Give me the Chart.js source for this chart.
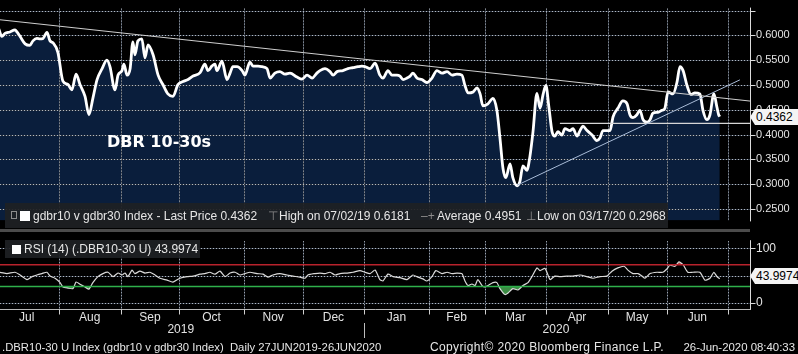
<!DOCTYPE html>
<html>
<head>
<meta charset="utf-8">
<script src="https://cdn.jsdelivr.net/npm/chart.js@4.4.1/dist/chart.umd.min.js"></script>
<style>
html, body { margin: 0; padding: 0; background: #000; }
#wrap { position: relative; width: 798px; height: 354px; overflow: hidden; background: #000; font-family: "Liberation Sans", Arial, sans-serif; color: #e6e6e6; }
#wrap canvas { position: absolute; left: 0; }
#priceplot { top: 0; }
#rsiplot { top: 232px; }
.sep { position: absolute; left: 0; top: 229px; width: 750px; height: 3px; background: #4b4b4b; }
.box { position: absolute; background: rgba(30, 32, 36, 0.93); }
.t { position: absolute; white-space: nowrap; font-size: 12px; line-height: 14px; }
.sq { position: absolute; background: #fff; }
.gray { color: #8c8c8c; }
.tag { position: absolute; left: 750px; width: 48px; height: 16px; background: #f4f4f4; color: #000; font-size: 12px; line-height: 16px; padding-left: 6px; box-sizing: border-box; clip-path: polygon(0 50%, 5px 0, 100% 0, 100% 100%, 5px 100%); }
#title { position: absolute; left: 107px; top: 132px; font-family: "DejaVu Sans", sans-serif; font-weight: bold; font-size: 16px; color: #fff; }
</style>
</head>
<body>
<div id="wrap">
  <canvas id="priceplot" width="798" height="229"></canvas>
  <div class="sep"></div>
  <canvas id="rsiplot" width="798" height="122"></canvas>

  <div id="title">DBR 10-30s</div>

  <div class="box" style="left:5px;top:203px;width:663px;height:25px;"></div>
  <div style="position:absolute;left:11px;top:211px;width:4px;height:6px;border:1px solid #8c8c8c;"></div>
  <div class="sq" style="left:20px;top:211px;width:10px;height:10px;"></div>
  <div class="t" style="left:33px;top:209px;">gdbr10 v gdbr30 Index - Last Price 0.4362</div>
  <div class="t gray" style="left:268px;top:209px;">⊤</div>
  <div class="t" style="left:279px;top:209px;">High on 07/02/19 0.6181</div>
  <div class="t gray" style="left:421px;top:209px;">–+</div>
  <div class="t" style="left:437px;top:209px;">Average 0.4951</div>
  <div class="t gray" style="left:526px;top:209px;">⊥</div>
  <div class="t" style="left:537px;top:209px;">Low on 03/17/20 0.2968</div>

  <div class="box" style="left:5px;top:240px;width:195px;height:18px;"></div>
  <div class="sq" style="left:12px;top:245px;width:9px;height:9px;"></div>
  <div class="t" style="left:24px;top:242px;">RSI (14) (.DBR10-30 U) 43.9974</div>

  <div class="tag" style="top:109px;">0.4362</div>
  <div class="tag" style="top:268px;">43.9974</div>

  <div class="t" style="left:2px;top:340px;font-size:11.3px;">.DBR10-30 U Index (gdbr10 v gdbr30 Index)&nbsp; Daily 27JUN2019-26JUN2020</div>
  <div class="t" style="left:430px;top:340px;letter-spacing:0.35px;">Copyright© 2020 Bloomberg Finance L.P.</div>
  <div class="t" style="right:3px;top:340px;font-size:11.4px;">26-Jun-2020 08:40:33</div>
</div>

<script>
// x unit = trading day counted from 27 Jun 2019
const xFirst = 3.93;
const xLast = 271.8;

const monthStarts = [2, 25, 47, 68, 91, 112, 134, 157, 177, 199, 221, 242, 264];
const monthNames = ['Jul', 'Aug', 'Sep', 'Oct', 'Nov', 'Dec', 'Jan', 'Feb', 'Mar', 'Apr', 'May', 'Jun'];
const yearNames = ['2019', '2020'];
const yearLabelAt = [68.5, 202.5];
const yearBreak = 134;

const priceTicks = [0.25, 0.30, 0.35, 0.40, 0.45, 0.50, 0.55, 0.60, 0.65];
const priceLabelled = [0.25, 0.30, 0.35, 0.40, 0.45, 0.50, 0.55, 0.60];
const rsiTicks = [0, 25, 50, 75, 100];
const rsiGridRows = [0, 50, 100];
const rsiLabelled = [0, 100];

const priceDay = [0, 1.5, 3, 4.6, 5.7, 7.5, 9.3, 10, 11.1, 12.9, 14.6, 15.7, 17.1, 18.2, 19.3, 20.7, 21.8, 22.9, 24.6, 26.4,
  28.2, 29.6, 31.1, 32.5, 34.3, 35.7, 37.1, 38.6, 40.4, 42.1, 43.2, 45, 46.1, 47.5, 48.2, 49.3, 50.4, 51.4, 52.1, 53.2,
  54.6, 55.7, 56.8, 58.6, 60.4, 62.1, 63.9, 65.7, 67.5, 69.3, 71.1, 72.9, 75.4, 77.1, 78.2, 79.6, 80.7, 81.4, 83.2, 85,
  86.1, 87.1, 88.6, 90.4, 91.4, 93.2, 94.3, 96.1, 97.5, 99.3, 100.4, 102.1, 103.9, 105.7, 107.5, 110, 111.8, 113.6, 115.4, 117.1,
  118.2, 120, 121.8, 122.9, 124.3, 126.4, 128.2, 130, 131.8, 133.2, 134.3, 136.1, 137.9, 139.6, 140.7, 142.5, 143.9, 145.7, 146.8, 147.9,
  149.3, 150.4, 151.4, 152.9, 154.6, 156.4, 158.2, 160, 161.8, 163.6, 165.4, 167.1, 168.9, 170, 171.1, 172.9, 174.3, 175.4, 176.4, 178.2,
  180, 181.4, 182.5, 183.6, 184.6, 186.1, 187.1, 188.6, 189.6, 190.7, 192.1, 193.2, 194.3, 195.7, 196.8, 197.9, 198.9, 200, 201.1, 202.1,
  203.2, 204.6, 205.7, 207.5, 208.6, 210, 211.1, 212.1, 213.6, 215.4, 217.1, 218.2, 219.3, 221.8, 222.9, 224.6, 226.4, 227.9, 228.9, 230,
  231.4, 232.5, 233.6, 235, 236.1, 237.1, 238.9, 240.4, 241.4, 242.5, 244.3, 245.7, 246.8, 247.9, 249.3, 250.7, 252.1, 253.9, 255, 256.4,
  257.5, 258.9, 260, 260.6, 261];
const priceLevel = [0.606, 0.612, 0.618, 0.598, 0.604, 0.607, 0.611, 0.607, 0.598, 0.583, 0.580, 0.589, 0.594, 0.593, 0.594, 0.606, 0.589, 0.585, 0.566, 0.508,
  0.501, 0.490, 0.522, 0.501, 0.477, 0.440, 0.473, 0.511, 0.533, 0.550, 0.537, 0.490, 0.520, 0.529, 0.542, 0.520, 0.533, 0.587, 0.561, 0.589,
  0.593, 0.555, 0.581, 0.561, 0.520, 0.501, 0.482, 0.477, 0.501, 0.507, 0.511, 0.518, 0.525, 0.542, 0.529, 0.538, 0.542, 0.529, 0.548, 0.511,
  0.524, 0.537, 0.537, 0.529, 0.520, 0.546, 0.538, 0.538, 0.537, 0.533, 0.514, 0.524, 0.527, 0.522, 0.524, 0.516, 0.512, 0.520, 0.514, 0.524,
  0.529, 0.533, 0.527, 0.520, 0.527, 0.529, 0.533, 0.535, 0.537, 0.538, 0.537, 0.533, 0.544, 0.520, 0.514, 0.529, 0.520, 0.520, 0.518, 0.511,
  0.514, 0.518, 0.524, 0.514, 0.511, 0.505, 0.514, 0.529, 0.524, 0.527, 0.520, 0.522, 0.520, 0.499, 0.484, 0.486, 0.494, 0.482, 0.458, 0.462,
  0.473, 0.449, 0.393, 0.331, 0.313, 0.341, 0.313, 0.2968, 0.305, 0.337, 0.328, 0.356, 0.406, 0.483, 0.453, 0.481, 0.499, 0.454, 0.406, 0.397,
  0.406, 0.399, 0.412, 0.408, 0.412, 0.397, 0.408, 0.417, 0.408, 0.399, 0.388, 0.393, 0.408, 0.408, 0.436, 0.453, 0.468, 0.462, 0.440, 0.434,
  0.440, 0.449, 0.430, 0.425, 0.430, 0.443, 0.445, 0.449, 0.453, 0.486, 0.482, 0.505, 0.537, 0.529, 0.499, 0.481, 0.484, 0.482, 0.449, 0.430,
  0.440, 0.482, 0.455, 0.440, 0.4362];

const rsiDay = [2, 3.9, 6.4, 9.3, 11.1, 13.6, 15.4, 17.1, 18.9, 20.7, 21.8, 23.6, 25.4, 26.4, 28.2, 30, 31.1, 32.5, 34.3, 35.7,
  37.1, 38.9, 40.7, 42.5, 44.3, 46.1, 47.5, 48.6, 49.6, 51.1, 52.1, 53.9, 55.7, 57.5, 59.3, 61.1, 63.6, 65.7, 68.2, 70.7,
  72.9, 75.4, 77.1, 78.9, 80.7, 82.5, 84.3, 86.1, 87.9, 89.6, 91.4, 93.2, 95.7, 97.9, 99.6, 101.4, 103.9, 106.4, 108.6, 111.1,
  112.9, 113.9, 116.4, 118.2, 120, 121.8, 123.6, 125.4, 127.9, 130, 132.5, 134.3, 136.1, 137.9, 139.6, 140.7, 142.5, 144.3, 146.8, 149.3,
  151.4, 153.2, 155, 156.4, 158.2, 159.6, 161.8, 163.6, 165.4, 167.1, 168.9, 170, 171.1, 172.5, 173.6, 174.6, 176.1, 177.1, 178.2, 180,
  181.4, 182.5, 184.3, 185.4, 187.1, 188.9, 190.7, 192.5, 193.9, 195.7, 196.8, 198.6, 200.4, 202.1, 203.9, 206.4, 208.6, 211.1, 213.6, 215.7,
  218.2, 220.7, 222.5, 224.6, 226.8, 228.2, 230, 231.8, 233.2, 234.3, 236.1, 238.6, 240.7, 242.1, 243.2, 245, 246.4, 247.9, 249.6, 251.4,
  253.9, 255.7, 257.5, 258.9, 260, 261];
const rsiValue = [55, 56, 53.6, 56, 51, 42.6, 48, 51, 53.6, 56, 49, 45, 37, 29, 27, 26, 38, 34, 29, 25,
  37, 48, 53.6, 56, 48, 54.6, 51, 54.6, 48, 60, 53.6, 58, 54.6, 56, 51, 45, 41.5, 38, 45, 48,
  49, 52.5, 53.6, 56, 52.5, 58, 48, 54.6, 56, 51, 53.6, 56, 53.6, 52.5, 47, 51, 53.6, 51, 49, 47,
  45, 51, 53.6, 54.6, 53.6, 56, 51, 53.6, 54.6, 56, 59, 56, 53.6, 60, 42.6, 40, 52.5, 48, 46, 42.6,
  51, 47, 43.8, 40, 48, 59, 53.6, 56, 53.6, 54.6, 53.6, 40, 31.6, 34.4, 31.6, 42.6, 31.6, 29, 31.6, 37,
  37, 26, 15, 18, 26, 23.4, 31.6, 37, 48, 64, 59, 63, 42.6, 49, 48, 49, 49, 51, 48, 45,
  48, 49, 58, 64, 67, 60, 53.6, 53.6, 49, 45, 53.6, 56, 56, 62, 69, 67, 75, 70, 56, 56,
  56, 41.5, 45, 56, 48, 43.9974];

const overbought = 70;
const oversold = 30;

// hand drawn lines on the price panel
const downTrendDays = [0, 272];
const downTrendLevels = [0.634, 0.4675];
const upTrendDays = [188.6, 268.2];
const upTrendLevels = [0.2978, 0.5104];
const supportDays = [203.9, 272];
const supportLevels = [0.4228, 0.4228];

const FONT = '"Liberation Sans", Arial, sans-serif';
const gridBase = '#2c3440';
const gridColour = '#b4bac2';
const axisColour = '#dcdcdc';

function pts(xs, ys) {
    return xs.map((x, i) => ({ x: x, y: ys[i] }));
}
function near(list, v) {
    return list.some(t => Math.abs(t - v) < 1e-6);
}
function monthGrid(axis) {
    axis.ticks = monthStarts.filter(v => v >= xFirst && v <= xLast).map(v => ({ value: v }));
}

function seg(ctx, x1, y1, x2, y2) {
    ctx.beginPath();
    ctx.moveTo(x1, y1);
    ctx.lineTo(x2, y2);
    ctx.stroke();
}

// dotted grid, axis lines and tick marks, placed through the scales
function frame(rowList, withBottomAxis) {
    return {
        id: 'frame',
        beforeDatasetsDraw(chart) {
            const { ctx, chartArea: a, scales } = chart;
            const lines = [];
            monthStarts.forEach(v => {
                const px = Math.round(scales.x.getPixelForValue(v)) + 0.5;
                if (px >= a.left && px < a.right) lines.push([px, a.top, px, a.bottom]);
            });
            rowList.forEach(v => {
                const py = Math.round(scales.y.getPixelForValue(v)) + 0.5;
                if (py >= a.top && py < a.bottom) lines.push([a.left, py, a.right, py]);
            });
            ctx.save();
            ctx.lineWidth = 1;
            ctx.strokeStyle = gridBase;
            lines.forEach(l => seg(ctx, l[0], l[1], l[2], l[3]));
            ctx.strokeStyle = gridColour;
            ctx.setLineDash([1, 2]);
            lines.forEach(l => seg(ctx, l[0], l[1], l[2], l[3]));
            ctx.restore();
        },
        afterDraw(chart) {
            const { ctx, chartArea: a, scales } = chart;
            const ax = Math.round(a.right) + 0.5;
            ctx.save();
            ctx.strokeStyle = axisColour;
            ctx.lineWidth = 1;
            seg(ctx, ax, a.top - 1, ax, a.bottom + 1);
            scales.y.ticks.forEach(t => {
                const py = Math.round(scales.y.getPixelForValue(t.value)) + 0.5;
                if (py < a.top - 1 || py > a.bottom) return;
                seg(ctx, ax, py, ax + 5, py);
            });
            if (withBottomAxis) {
                const by = Math.round(a.bottom) + 0.5;
                ctx.strokeStyle = '#b8b8b8';
                seg(ctx, 0, by, ax, by);
                ctx.strokeStyle = '#cfcfcf';
                monthStarts.forEach(v => {
                    const px = Math.round(scales.x.getPixelForValue(v)) + 0.5;
                    if (px < a.left || px >= a.right) return;
                    seg(ctx, px, by, px, by + 5);
                });
            }
            ctx.restore();
        }
    };
}

const hiddenGrid = { display: true, drawOnChartArea: false, drawTicks: true, tickLength: 4, tickColor: 'rgba(0,0,0,0)' };

function setupPricePlot() {
    const ctx = document.getElementById('priceplot').getContext('2d');
    return new Chart(ctx, {
        type: 'line',
        data: {
            datasets: [
                { data: pts(downTrendDays, downTrendLevels), borderColor: '#cfcfcf', borderWidth: 1, pointRadius: 0, fill: false, order: 1 },
                { data: pts(upTrendDays, upTrendLevels), borderColor: '#a9bcd8', borderWidth: 1, pointRadius: 0, fill: false, order: 1 },
                { data: pts(supportDays, supportLevels), borderColor: '#d6d6d6', borderWidth: 1.2, pointRadius: 0, fill: false, order: 1 },
                { data: pts(priceDay, priceLevel), borderColor: '#ffffff', borderWidth: 2.8, backgroundColor: '#0a1e3c', fill: 'start',
                  pointRadius: 0, tension: 0.25, cubicInterpolationMode: 'monotone', borderJoinStyle: 'round', order: 2 }
            ]
        },
        options: {
            responsive: false, animation: false, devicePixelRatio: 1, events: [],
            layout: { padding: 0 },
            plugins: { legend: { display: false }, tooltip: { enabled: false }, filler: { drawTime: 'beforeDraw' } },
            scales: {
                x: {
                    type: 'linear', min: xFirst, max: xLast,
                    afterBuildTicks: monthGrid,
                    afterFit: (ax) => { ax.height = 0; },
                    ticks: { display: false },
                    grid: { display: false },
                    border: { display: false }
                },
                y: {
                    position: 'right', min: 0.2269, max: 0.6541,
                    afterBuildTicks: (ax) => {
                        const t = [];
                        priceTicks.forEach(v => { t.push({ value: v }); t.push({ value: v + 0.025 }); });
                        ax.ticks = t.filter(k => k.value >= ax.min && k.value <= ax.max);
                    },
                    afterFit: (ax) => { ax.width = 48; },
                    ticks: {
                        color: '#e4e4e4', font: { size: 11, family: FONT }, padding: 2,
                        callback: (v) => near(priceLabelled, v) ? v.toFixed(4) : ''
                    },
                    grid: hiddenGrid,
                    border: { display: false }
                }
            }
        },
        plugins: [frame(priceTicks, false)]
    });
}

const axisText = {
    id: 'axisText',
    afterDraw(chart) {
        const { ctx, chartArea, scales } = chart;
        const x = scales.x;
        ctx.save();
        ctx.fillStyle = '#e2e2e2';
        ctx.font = '12px ' + FONT;
        ctx.textAlign = 'center';
        ctx.textBaseline = 'middle';
        monthNames.forEach((m, i) => {
            const mid = (monthStarts[i] + monthStarts[i + 1]) / 2;
            ctx.fillText(m, x.getPixelForValue(mid), chartArea.bottom + 9);
        });
        yearNames.forEach((y, i) => {
            ctx.fillText(y, x.getPixelForValue(yearLabelAt[i]), chartArea.bottom + 21);
        });
        const bx = Math.round(x.getPixelForValue(yearBreak));
        ctx.fillStyle = '#bdbdbd';
        ctx.fillRect(bx, chartArea.bottom + 14, 1, 15);
        ctx.restore();
    }
};

function setupRsiPlot() {
    const ctx = document.getElementById('rsiplot').getContext('2d');
    return new Chart(ctx, {
        type: 'line',
        data: {
            datasets: [
                { data: pts([xFirst, xLast], [overbought, overbought]), borderColor: '#b8222c', borderWidth: 1.5, pointRadius: 0, fill: false, order: 0 },
                { data: pts([xFirst, xLast], [oversold, oversold]), borderColor: '#2fb04b', borderWidth: 1.5, pointRadius: 0, fill: false, order: 0 },
                { data: pts(rsiDay, rsiValue), borderColor: '#dadada', borderWidth: 1.2, pointRadius: 0, tension: 0.2,
                  fill: { target: { value: oversold }, above: 'rgba(0,0,0,0)', below: 'rgba(70,165,80,0.85)' }, order: 1 },
                { data: pts(rsiDay, rsiValue), borderWidth: 0, borderColor: 'rgba(0,0,0,0)', pointRadius: 0, tension: 0.2,
                  fill: { target: { value: overbought }, above: 'rgba(205,80,80,0.85)', below: 'rgba(0,0,0,0)' }, order: 2 }
            ]
        },
        options: {
            responsive: false, animation: false, devicePixelRatio: 1, events: [],
            layout: { padding: { top: 1, left: 0, right: 0, bottom: 0 } },
            plugins: { legend: { display: false }, tooltip: { enabled: false } },
            scales: {
                x: {
                    type: 'linear', min: xFirst, max: xLast,
                    afterBuildTicks: monthGrid,
                    afterFit: (ax) => { ax.height = 45; },
                    ticks: { display: false },
                    grid: { display: false },
                    border: { display: false }
                },
                y: {
                    position: 'right', min: -11.5, max: 113.1,
                    afterBuildTicks: (ax) => { ax.ticks = rsiTicks.map(v => ({ value: v })); },
                    afterFit: (ax) => { ax.width = 48; },
                    ticks: {
                        color: '#e4e4e4', font: { size: 12, family: FONT }, padding: 2,
                        callback: (v) => near(rsiLabelled, v) ? String(v) : ''
                    },
                    grid: hiddenGrid,
                    border: { display: false }
                }
            }
        },
        plugins: [frame(rsiGridRows, true), axisText]
    });
}

document.addEventListener('DOMContentLoaded', () => {
    setupPricePlot();
    setupRsiPlot();
});
</script>
</body>
</html>
